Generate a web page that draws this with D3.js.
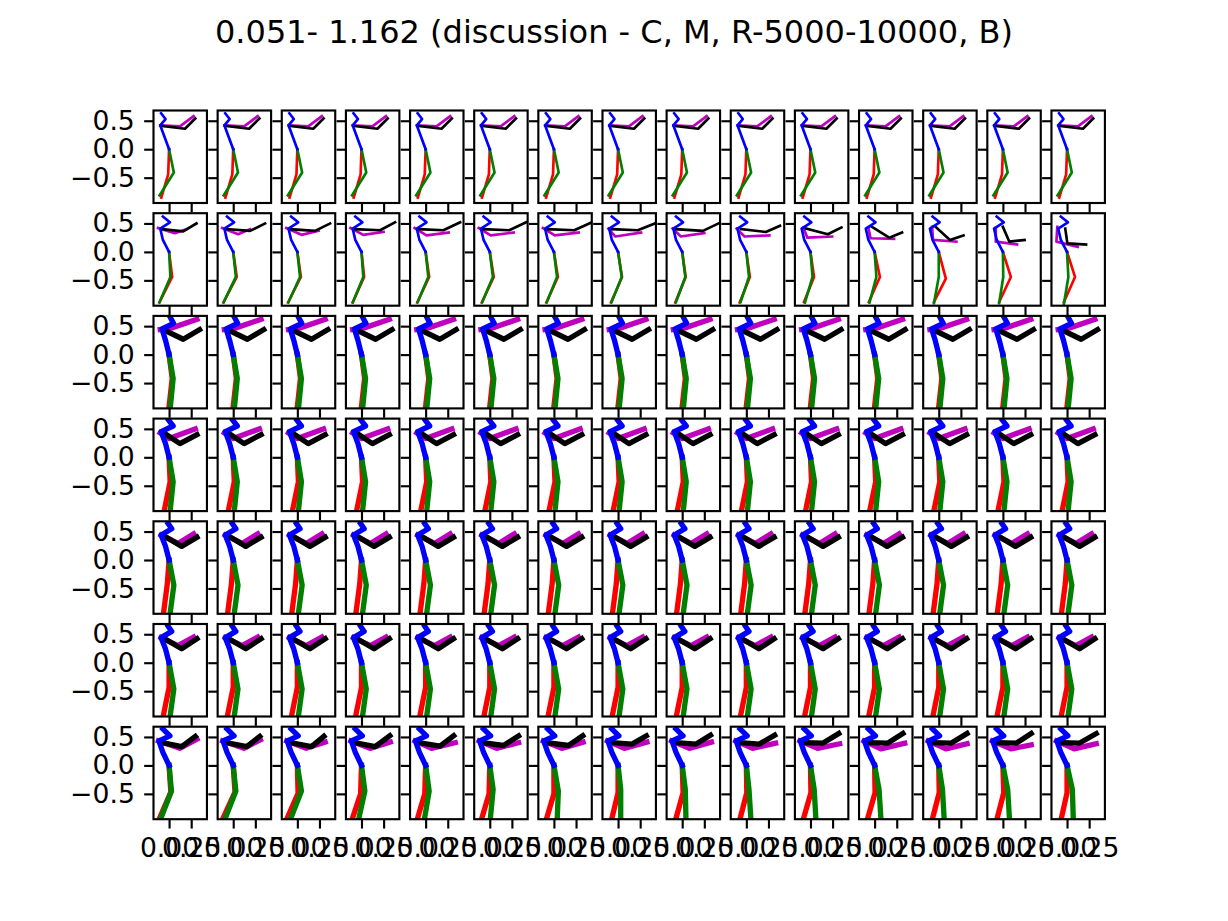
<!DOCTYPE html>
<html>
<head>
<meta charset="utf-8">
<script src="https://cdn.jsdelivr.net/npm/d3@7"></script>
<style>
  body { margin: 0; background: #fff; }
  svg text { font-family: "DejaVu Sans", sans-serif; }
</style>
</head>
<body>
<svg id="fig" width="1228" height="921"></svg>
<script>

const title = "0.051- 1.162 (discussion - C, M, R-5000-10000, B)";
const nRows = 7, nCols = 15;
const xTicks = [0, 0.25];
const yTicks = [-0.5, 0, 0.5];
const xDomain = [-0.176, 0.428];
const yDomain = [-0.945, 0.68];

// blue chain hip -> spine -> thorax -> neck -> head, one per row
const spineRows = [
    [[0, 0], [-0.05, 0.21], [-0.1, 0.42], [-0.04, 0.53], [-0.09, 0.63]],
    [[0, 0], [-0.07, 0.21], [-0.1, 0.41], [0.01, 0.52], [-0.07, 0.62]],
    [[0, 0], [-0.04, 0.25], [-0.08, 0.45], [0.05, 0.55], [0.015, 0.65]],
    [[0, 0], [-0.04, 0.24], [-0.09, 0.45], [0.046, 0.55], [-0.004, 0.65]],
    [[0, 0], [-0.04, 0.24], [-0.09, 0.44], [0.03, 0.55], [-0.01, 0.64]],
    [[0, 0], [-0.04, 0.24], [-0.09, 0.44], [0.03, 0.55], [-0.01, 0.64]],
    [[0, 0], [-0.07, 0.23], [-0.115, 0.43], [0.01, 0.52], [-0.07, 0.64]]
];

// magenta arm: shoulder, elbow, hand (rows where all columns look alike)
const magentaRows = [
    [[-0.1, 0.42], [0.123, 0.40], [0.277, 0.58]],
    null,
    [[-0.1, 0.44], [0.03, 0.47], [0.315, 0.62]],
    [[-0.1, 0.43], [0.0, 0.33], [0.296, 0.50]],
    [[-0.09, 0.44], [0.10, 0.29], [0.277, 0.46]],
    [[-0.09, 0.44], [0.10, 0.30], [0.277, 0.45]],
    null
];
// black arm: shoulder, elbow, hand
const blackRows = [
    [[-0.09, 0.41], [0.18, 0.36], [0.296, 0.54]],
    null,
    [[-0.04, 0.42], [0.16, 0.27], [0.345, 0.44]],
    [[-0.04, 0.41], [0.123, 0.24], [0.315, 0.40]],
    [[-0.04, 0.41], [0.142, 0.24], [0.315, 0.40]],
    [[-0.04, 0.41], [0.142, 0.245], [0.315, 0.42]],
    null
];
// legs: knee, foot (from the hip at 0,0)
const redRows = [
    [[-0.01, -0.44], [-0.088, -0.85]],
    null,
    [[0.035, -0.42], [0.0, -0.91]],
    [[0.012, -0.43], [-0.05, -0.90]],
    [[-0.02, -0.42], [-0.06, -0.90]],
    [[0.0, -0.43], [-0.06, -0.89]],
    null
];
const greenRows = [
    [[0.054, -0.41], [-0.107, -0.81]],
    null,
    [[0.046, -0.42], [0.015, -0.91]],
    [[0.046, -0.43], [0.015, -0.90]],
    [[0.054, -0.44], [0.015, -0.90]],
    [[0.054, -0.46], [0.015, -0.90]],
    null
];

// second row, column by column
const row2Magenta = [
    [[-0.125, 0.42], [0.065, 0.33], [0.20, 0.40]],
    [[-0.125, 0.42], [0.056, 0.31], [0.19, 0.40]],
    [[-0.125, 0.42], [0.047, 0.30], [0.24, 0.37]],
    [[-0.125, 0.42], [0.02, 0.30], [0.25, 0.35]],
    [[-0.125, 0.42], [0.01, 0.29], [0.26, 0.34]],
    [[-0.125, 0.42], [0.01, 0.29], [0.27, 0.34]],
    [[-0.125, 0.42], [0.01, 0.29], [0.28, 0.34]],
    [[-0.11, 0.41], [-0.03, 0.27], [0.26, 0.34]],
    [[-0.11, 0.41], [-0.015, 0.27], [0.25, 0.33]],
    [[-0.11, 0.41], [-0.02, 0.27], [0.26, 0.29]],
    [[-0.08, 0.43], [-0.035, 0.25], [0.245, 0.27]],
    [[-0.07, 0.42], [-0.046, 0.24], [0.22, 0.23]],
    [[-0.075, 0.44], [-0.065, 0.21], [0.20, 0.18]],
    [[-0.08, 0.42], [-0.08, 0.18], [0.16, 0.13]],
    [[-0.11, 0.44], [-0.12, 0.18], [0.12, 0.09]]
];
const row2Black = [
    [[-0.08, 0.40], [0.16, 0.36], [0.31, 0.50]],
    [[-0.08, 0.40], [0.19, 0.37], [0.36, 0.50]],
    [[-0.08, 0.40], [0.20, 0.37], [0.37, 0.50]],
    [[-0.08, 0.40], [0.21, 0.38], [0.38, 0.52]],
    [[-0.08, 0.40], [0.20, 0.38], [0.39, 0.52]],
    [[-0.08, 0.40], [0.22, 0.38], [0.41, 0.52]],
    [[-0.08, 0.40], [0.23, 0.38], [0.43, 0.52]],
    [[-0.07, 0.40], [0.223, 0.38], [0.415, 0.50]],
    [[-0.07, 0.40], [0.234, 0.37], [0.41, 0.50]],
    [[-0.06, 0.40], [0.22, 0.35], [0.38, 0.46]],
    [[-0.05, 0.41], [0.196, 0.31], [0.35, 0.43]],
    [[-0.03, 0.44], [0.165, 0.25], [0.31, 0.34]],
    [[-0.035, 0.44], [0.127, 0.21], [0.28, 0.29]],
    [[0.0, 0.44], [0.073, 0.18], [0.245, 0.21]],
    [[-0.02, 0.41], [0.004, 0.15], [0.215, 0.13]]
];
const row2Red = [
    [[0.035, -0.44], [-0.11, -0.89]],
    [[0.04, -0.44], [-0.11, -0.89]],
    [[0.04, -0.44], [-0.105, -0.89]],
    [[0.03, -0.44], [-0.10, -0.89]],
    [[0.04, -0.44], [-0.095, -0.89]],
    [[0.045, -0.44], [-0.09, -0.89]],
    [[0.045, -0.44], [-0.085, -0.89]],
    [[0.045, -0.44], [-0.08, -0.89]],
    [[0.04, -0.44], [-0.078, -0.89]],
    [[0.04, -0.44], [-0.075, -0.89]],
    [[0.04, -0.44], [-0.073, -0.88]],
    [[0.06, -0.44], [-0.065, -0.88]],
    [[0.08, -0.47], [-0.054, -0.88]],
    [[0.09, -0.44], [-0.042, -0.88]],
    [[0.09, -0.44], [-0.035, -0.88]]
];
const row2Green = [
    [[0.015, -0.44], [-0.107, -0.88]],
    [[0.03, -0.44], [-0.107, -0.88]],
    [[0.03, -0.44], [-0.10, -0.88]],
    [[0.02, -0.44], [-0.096, -0.88]],
    [[0.03, -0.44], [-0.09, -0.88]],
    [[0.035, -0.44], [-0.085, -0.88]],
    [[0.035, -0.44], [-0.08, -0.88]],
    [[0.042, -0.44], [-0.073, -0.88]],
    [[0.035, -0.44], [-0.07, -0.88]],
    [[0.03, -0.44], [-0.065, -0.88]],
    [[0.023, -0.44], [-0.062, -0.89]],
    [[0.02, -0.44], [-0.058, -0.89]],
    [[0.0, -0.44], [-0.054, -0.90]],
    [[0.004, -0.44], [-0.042, -0.90]],
    [[0.015, -0.44], [-0.035, -0.91]]
];

// last row, column by column
const row7Magenta = [
    [[-0.12, 0.43], [0.12, 0.30], [0.315, 0.46]],
    [[-0.12, 0.43], [0.12, 0.30], [0.307, 0.45]],
    [[-0.12, 0.43], [0.10, 0.30], [0.315, 0.41]],
    [[-0.12, 0.43], [0.096, 0.30], [0.326, 0.41]],
    [[-0.12, 0.43], [0.067, 0.30], [0.335, 0.40]],
    [[-0.12, 0.43], [0.077, 0.30], [0.326, 0.40]],
    [[-0.12, 0.43], [0.088, 0.30], [0.33, 0.41]],
    [[-0.12, 0.43], [0.07, 0.30], [0.326, 0.41]],
    [[-0.12, 0.43], [0.08, 0.30], [0.33, 0.41]],
    [[-0.12, 0.43], [0.07, 0.30], [0.33, 0.39]],
    [[-0.12, 0.43], [0.08, 0.30], [0.33, 0.38]],
    [[-0.12, 0.43], [0.07, 0.29], [0.34, 0.39]],
    [[-0.12, 0.43], [0.08, 0.29], [0.32, 0.38]],
    [[-0.12, 0.43], [0.09, 0.29], [0.32, 0.36]],
    [[-0.12, 0.43], [0.08, 0.29], [0.33, 0.38]]
];
const row7Black = [
    [[-0.08, 0.40], [0.143, 0.33], [0.296, 0.51]],
    [[-0.08, 0.40], [0.154, 0.33], [0.30, 0.51]],
    [[-0.08, 0.40], [0.16, 0.33], [0.30, 0.51]],
    [[-0.08, 0.40], [0.154, 0.33], [0.32, 0.52]],
    [[-0.08, 0.40], [0.163, 0.34], [0.317, 0.52]],
    [[-0.08, 0.40], [0.154, 0.35], [0.326, 0.52]],
    [[-0.08, 0.40], [0.165, 0.35], [0.326, 0.52]],
    [[-0.07, 0.40], [0.157, 0.375], [0.32, 0.52]],
    [[-0.07, 0.40], [0.157, 0.375], [0.32, 0.53]],
    [[-0.07, 0.40], [0.146, 0.375], [0.32, 0.53]],
    [[-0.07, 0.40], [0.138, 0.39], [0.32, 0.56]],
    [[-0.07, 0.40], [0.146, 0.39], [0.32, 0.56]],
    [[-0.07, 0.40], [0.138, 0.39], [0.32, 0.56]],
    [[-0.07, 0.40], [0.15, 0.39], [0.32, 0.56]],
    [[-0.07, 0.40], [0.138, 0.39], [0.33, 0.56]]
];
const row7Red = [
    [[0.02, -0.47], [-0.10, -0.90]],
    [[0.02, -0.47], [-0.107, -0.90]],
    [[0.008, -0.49], [-0.107, -0.90]],
    [[-0.01, -0.50], [-0.096, -0.90]],
    [[-0.01, -0.50], [-0.086, -0.90]],
    [[-0.008, -0.50], [-0.085, -0.90]],
    [[0.0, -0.50], [-0.077, -0.90]],
    [[0.0, -0.48], [-0.065, -0.90]],
    [[0.01, -0.48], [-0.065, -0.90]],
    [[0.005, -0.48], [-0.065, -0.90]],
    [[0.005, -0.48], [-0.073, -0.90]],
    [[0.005, -0.48], [-0.073, -0.90]],
    [[0.005, -0.48], [-0.065, -0.90]],
    [[0.01, -0.48], [-0.06, -0.90]],
    [[0.0, -0.48], [-0.06, -0.90]]
];
const row7Green = [
    [[0.027, -0.45], [-0.088, -0.91]],
    [[0.03, -0.45], [-0.085, -0.91]],
    [[0.046, -0.45], [-0.069, -0.91]],
    [[0.038, -0.45], [-0.027, -0.91]],
    [[0.04, -0.45], [-0.01, -0.91]],
    [[0.038, -0.42], [0.008, -0.91]],
    [[0.05, -0.45], [0.038, -0.91]],
    [[0.03, -0.42], [0.03, -0.91]],
    [[0.035, -0.42], [0.042, -0.91]],
    [[0.03, -0.42], [0.05, -0.91]],
    [[0.042, -0.42], [0.06, -0.91]],
    [[0.05, -0.42], [0.07, -0.91]],
    [[0.042, -0.42], [0.06, -0.91]],
    [[0.054, -0.42], [0.073, -0.91]],
    [[0.06, -0.42], [0.07, -0.91]]
];

// ---------------------------------------------------------------

const pt = 192 / 72;           // figure is drawn at 192 dpi
const figW = 1228, figH = 921;
const left0 = 153.5, top0 = 110.5;
const cellW = 53.45, cellH = 92.5;
const stepX = 64.14, stepY = 102.7;

const svg = d3.select('#fig');

svg.append('rect')
    .attr('width', figW).attr('height', figH)
    .attr('fill', '#fff');

svg.append('text')
    .attr('x', figW / 2)
    .attr('y', 43)
    .attr('text-anchor', 'middle')
    .style('font-size', (12 * pt) + 'px')
    .text(title);

let x = d3.scaleLinear().domain(xDomain).range([0, cellW]);
let y = d3.scaleLinear().domain(yDomain).range([cellH, 0]);

let line = d3.line()
    .x(d => x(d[0]))
    .y(d => y(d[1]));

// pick a row pose, or a column pose for the rows that move
function pick(base, perCol, r, c) {
    if (r === 1) return perCol[1][c];
    if (r === 6) return perCol[6][c];
    return base[r];
}

const hip = [0, 0];

for (let r = 0; r < nRows; r++) {
    for (let c = 0; c < nCols; c++) {

        let g = svg.append('g')
            .attr('transform', 'translate(' + (left0 + c * stepX) + ',' + (top0 + r * stepY) + ')');

        let clipId = 'clip-' + r + '-' + c;
        g.append('clipPath').attr('id', clipId)
            .append('rect').attr('width', cellW).attr('height', cellH);

        let lw = (r < 2 ? 1 : 2) * pt;

        let limbs = [
            { color: '#ff0000', pts: [hip].concat(pick(redRows, { 1: row2Red, 6: row7Red }, r, c)) },
            { color: '#008000', pts: [hip].concat(pick(greenRows, { 1: row2Green, 6: row7Green }, r, c)) },
            { color: '#bf00bf', pts: pick(magentaRows, { 1: row2Magenta, 6: row7Magenta }, r, c) },
            { color: '#000000', pts: pick(blackRows, { 1: row2Black, 6: row7Black }, r, c) },
            { color: '#0000ff', pts: spineRows[r] }
        ];

        let plot = g.append('g').attr('clip-path', 'url(#' + clipId + ')');
        plot.selectAll('path')
            .data(limbs)
            .enter()
            .append('path')
              .attr('d', d => line(d.pts))
              .attr('fill', 'none')
              .attr('stroke', d => d.color)
              .attr('stroke-width', lw)
              .attr('stroke-linecap', 'square')
              .attr('stroke-linejoin', 'round');

        // y axis: ticks everywhere, labels on first column
        g.append('g')
            .call(d3.axisLeft(y)
                .tickValues(yTicks)
                .tickSize(3.5 * pt)
                .tickPadding(3.5 * pt)
                .tickFormat(c === 0 ? d3.format('.1f') : () => ''))
            .call(a => a.select('.domain').remove())
            .attr('font-family', null)
            .attr('font-size', null)
            .call(a => a.selectAll('line').attr('stroke', '#000').attr('stroke-width', 0.8 * pt))
            .call(a => a.selectAll('text').style('font-size', (10 * pt) + 'px').attr('fill', '#000'));

        // x axis: labels on bottom row
        g.append('g')
            .attr('transform', 'translate(0,' + cellH + ')')
            .call(d3.axisBottom(x)
                .tickValues(xTicks)
                .tickSize(3.5 * pt)
                .tickPadding(3.5 * pt)
                .tickFormat(r === nRows - 1 ? d3.format('.2f') : () => ''))
            .call(a => a.select('.domain').remove())
            .attr('font-family', null)
            .attr('font-size', null)
            .call(a => a.selectAll('line').attr('stroke', '#000').attr('stroke-width', 0.8 * pt))
            .call(a => a.selectAll('text').style('font-size', (10 * pt) + 'px').attr('fill', '#000'));

        // frame
        g.append('rect')
            .attr('width', cellW)
            .attr('height', cellH)
            .attr('fill', 'none')
            .attr('stroke', '#000')
            .attr('stroke-width', 0.8 * pt);
    }
}

</script>
</body>
</html>
